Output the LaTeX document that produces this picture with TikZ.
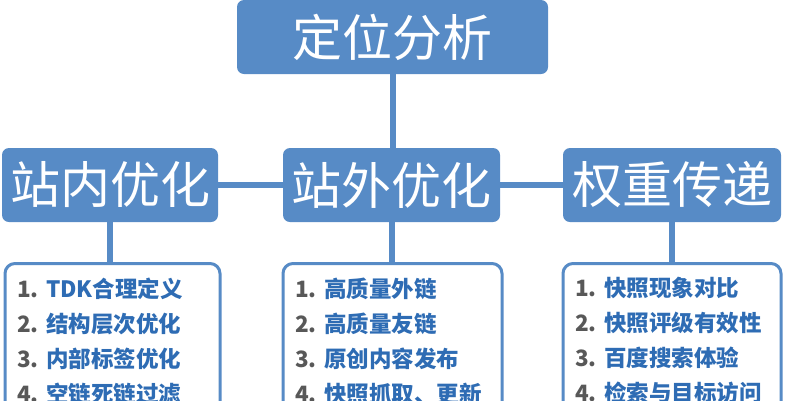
\documentclass[tikz,border=0pt]{standalone}
\usepackage{fontspec}
\newfontfamily\cjk{Noto Sans CJK SC}
\usetikzlibrary{positioning}
\definecolor{boxblue}{RGB}{87,139,198}
\definecolor{itemblue}{RGB}{46,108,180}
\definecolor{itemgray}{RGB}{88,88,88}
\newcommand{\itm}[2]{\textcolor{itemgray}{#1.}\ \textcolor{itemblue}{#2}}

\begin{document}
\begin{tikzpicture}[x=1pt,y=-1pt,font=\cjk]
 \tikzstyle{head}=[fill=boxblue,text=white,rounded corners=7pt,font=\cjk\fontsize{50}{60}\selectfont,minimum height=74pt,inner sep=0pt]
 \tikzstyle{list}=[draw=boxblue,line width=3pt,fill=white,rounded corners=10pt,anchor=north,align=left,inner xsep=12pt,inner ysep=14pt,font=\cjk\bfseries\fontsize{22.5}{35}\selectfont]
 \tikzstyle{link}=[draw=boxblue,line width=6pt]
 \useasboundingbox (0,0) rectangle (800,400);
 \clip (0,0) rectangle (800,400);

   \node[head,minimum width=311pt] (title) at (392.5,37) {定位分析};
   \node[head,minimum width=216pt] (inner) at (110,185) {站内优化};
   \node[head,minimum width=217pt] (outer) at (391.5,185) {站外优化};
   \node[head,minimum width=218pt] (weight) at (672,185) {权重传递};

   \node[list,text width=191pt] (innerlist) at (112.5,262)
     {\itm{1}{TDK合理定义}\\ \itm{2}{结构层次优化}\\ \itm{3}{内部标签优化}\\ \itm{4}{空链死链过滤}};
   \node[list,text width=195pt] (outerlist) at (392.5,262)
     {\itm{1}{高质量外链}\\ \itm{2}{高质量友链}\\ \itm{3}{原创内容发布}\\ \itm{4}{快照抓取、更新}};
   \node[list,text width=194pt] (weightlist) at (672,262)
     {\itm{1}{快照现象对比}\\ \itm{2}{快照评级有效性}\\ \itm{3}{百度搜索体验}\\ \itm{4}{检索与目标访问}};

   \path[link]
    (title) -- (title |- outer.north)
    (inner) -- (outer)
    (outer) -- (weight)
    (inner) -- (inner |- innerlist.north)
    (outer) -- (outer |- outerlist.north)
    (weight) -- (weight |- weightlist.north);
\end{tikzpicture}
\end{document}
